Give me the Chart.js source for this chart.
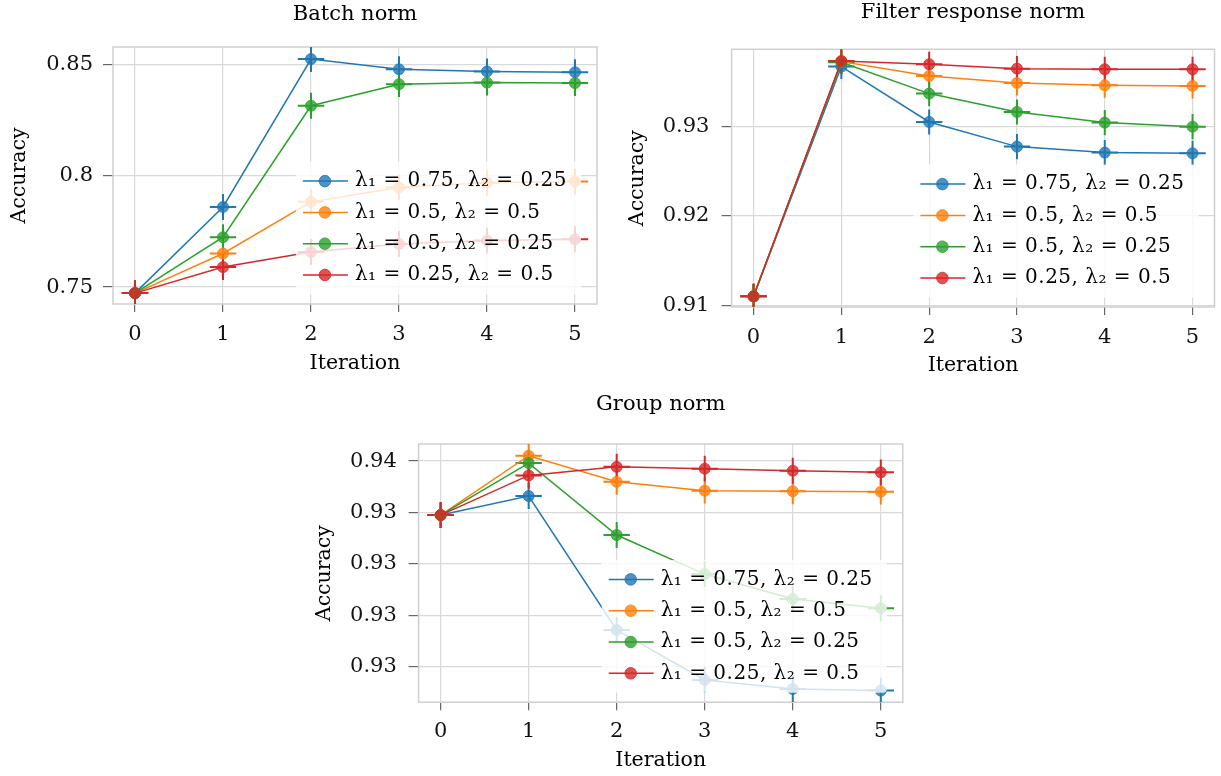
<!DOCTYPE html>
<html><head><meta charset="utf-8">
<script src="https://cdn.jsdelivr.net/npm/chart.js@4.4.0/dist/chart.umd.min.js"></script>
<style>
html,body{margin:0;padding:0;background:#fff;}
body{width:1221px;height:776px;position:relative;overflow:hidden;}
canvas{position:absolute;}
</style></head><body>
<canvas id="c1" width="610" height="385" style="left:0px;top:0px"></canvas>
<canvas id="c2" width="611" height="385" style="left:610px;top:0px"></canvas>
<canvas id="c3" width="620" height="391" style="left:300px;top:385px"></canvas>
<script>
// ---------- data ----------
const iterations = [0, 1, 2, 3, 4, 5];
const xTickValues = [0, 1, 2, 3, 4, 5];
const xTickLabels = ['0', '1', '2', '3', '4', '5'];
const seriesLabels = ['λ₁ = 0.75, λ₂ = 0.25', 'λ₁ = 0.5, λ₂ = 0.5', 'λ₁ = 0.5, λ₂ = 0.25', 'λ₁ = 0.25, λ₂ = 0.5'];
const seriesColors = ['#1f77b4', '#ff7f0e', '#2ca02c', '#d62728'];
const xErr = 0.15;

// Batch norm
const batchBlue   = [0.7473, 0.7860, 0.8525, 0.8479, 0.8469, 0.8466];
const batchOrange = [0.7473, 0.7651, 0.7883, 0.7948, 0.7969, 0.7974];
const batchGreen  = [0.7473, 0.7724, 0.8315, 0.8412, 0.8419, 0.8417];
const batchRed    = [0.7473, 0.7590, 0.7658, 0.7694, 0.7709, 0.7715];
const batchYErr   = [0.0058, 0.0058, 0.0058, 0.0058];
const batchYTicks = [0.75, 0.8, 0.85];
const batchYLabels = ['0.75', '0.8', '0.85'];
const batchYRange = [0.7424, 0.8579];

// Filter response norm
const frnBlue   = [0.9110, 0.93667, 0.93048, 0.92773, 0.92706, 0.92698];
const frnOrange = [0.9110, 0.93723, 0.93562, 0.93484, 0.93458, 0.93451];
const frnGreen  = [0.9110, 0.93715, 0.93365, 0.93160, 0.93041, 0.92996];
const frnRed    = [0.9110, 0.93730, 0.93693, 0.93644, 0.93637, 0.93637];
const frnYErr   = [0.0014, 0.0014, 0.0014, 0.0014];
const frnYTicks = [0.91, 0.92, 0.93];
const frnYLabels = ['0.91', '0.92', '0.93'];
const frnYRange = [0.90981, 0.9386];

// Group norm
const gnBlue   = [0.93737, 0.93830, 0.93178, 0.92935, 0.92891, 0.92883];
const gnOrange = [0.93737, 0.94026, 0.93899, 0.93856, 0.93853, 0.93851];
const gnGreen  = [0.93737, 0.93990, 0.93640, 0.93450, 0.93329, 0.93284];
const gnRed    = [0.93737, 0.93930, 0.93972, 0.93963, 0.93953, 0.93945];
const gnYErr   = [0.00063, 0.00063, 0.00063, 0.00063];
const gnYTicks = [0.93, 0.9325, 0.935, 0.9375, 0.94];
const gnYLabels = ['0.93', '0.93', '0.93', '0.93', '0.94'];
const gnYRange = [0.92826, 0.94083];

// ---------- drawing ----------
const FAMILY = "'DejaVu Serif', 'Liberation Serif', serif";
const TITLE_SIZE = 21, TICK_SIZE = 21, LABEL_SIZE = 20.5, LEG_SIZE = 20;

function rgba(hex, a) {
  const n = parseInt(hex.slice(1), 16);
  return `rgba(${(n >> 16) & 255},${(n >> 8) & 255},${n & 255},${a})`;
}

function makeChart(cfg) {
  const tlh = TITLE_SIZE * 1.2, alh = LABEL_SIZE * 1.2, klh = TICK_SIZE * 1.2;
  const A = cfg.area;
  let tTop = cfg.titleCenter - tlh / 2; if (tTop < 0) tTop = 0;
  const tBot = A.t - tTop - tlh;

  const decor = {
    id: 'decor_' + cfg.id,
    beforeDatasetsDraw(chart) {
      const ctx = chart.ctx, ca = chart.chartArea, xs = chart.scales.x, ys = chart.scales.y;
      ctx.save();
      ctx.strokeStyle = '#cfcfcf';
      ctx.lineWidth = 1.5;
      ctx.strokeRect(ca.left, ca.top, ca.right - ca.left, ca.bottom - ca.top);
      ctx.beginPath();
      ctx.rect(ca.left, ca.top, ca.right - ca.left, ca.bottom - ca.top);
      ctx.clip();
      ctx.lineWidth = 2;
      cfg.series.forEach((vals, i) => {
        ctx.strokeStyle = seriesColors[i];
        vals.forEach((v, j) => {
          const px = xs.getPixelForValue(iterations[j]);
          const py = ys.getPixelForValue(v);
          ctx.beginPath();
          ctx.moveTo(px, ys.getPixelForValue(v - cfg.yErr[i]));
          ctx.lineTo(px, ys.getPixelForValue(v + cfg.yErr[i]));
          ctx.moveTo(xs.getPixelForValue(iterations[j] - xErr), py);
          ctx.lineTo(xs.getPixelForValue(iterations[j] + xErr), py);
          ctx.stroke();
        });
      });
      ctx.restore();
    },
    afterDatasetsDraw(chart) {
      const ctx = chart.ctx, ca = chart.chartArea;
      const ds = chart.data.datasets;
      ctx.save();
      ctx.font = `${LEG_SIZE}px ${FAMILY}`;
      if ('letterSpacing' in ctx) ctx.letterSpacing = '0.5px';
      const maxW = Math.max(...ds.map(d => ctx.measureText(d.label).width));
      const rowH = 31.3;
      const right = ca.right - 16;
      const bottom = ca.bottom - 9.5;
      const textX = right - 14 - maxW;
      const lastRow = bottom - 19.5;
      const firstRow = lastRow - (ds.length - 1) * rowH;
      const top = firstRow - 19.5;
      const left = textX - 59;
      ctx.fillStyle = 'rgba(255,255,255,0.8)';
      ctx.beginPath();
      if (ctx.roundRect) ctx.roundRect(left, top, right - left, bottom - top, 4);
      else ctx.rect(left, top, right - left, bottom - top);
      ctx.fill();
      ds.forEach((d, i) => {
        const y = firstRow + i * rowH;
        ctx.strokeStyle = d.borderColor;
        ctx.lineWidth = 1.5;
        ctx.beginPath();
        ctx.moveTo(textX - 52, y);
        ctx.lineTo(textX - 7, y);
        ctx.stroke();
        ctx.beginPath();
        ctx.arc(textX - 30, y, 5.8, 0, Math.PI * 2);
        ctx.fillStyle = d.pointBackgroundColor;
        ctx.fill();
        ctx.lineWidth = 1;
        ctx.strokeStyle = d.pointBorderColor;
        ctx.stroke();
        ctx.fillStyle = '#000';
        ctx.textAlign = 'left';
        ctx.textBaseline = 'middle';
        ctx.fillText(d.label, textX, y);
      });
      ctx.restore();
    }
  };

  const datasets = cfg.series.map((vals, i) => ({
    label: seriesLabels[i],
    data: iterations.map((x, j) => ({ x: x, y: vals[j] })),
    borderColor: seriesColors[i],
    backgroundColor: rgba(seriesColors[i], 0.8),
    pointBackgroundColor: rgba(seriesColors[i], 0.8),
    pointBorderColor: rgba(seriesColors[i], 0.8),
    pointRadius: 5.5,
    pointBorderWidth: 1,
    borderWidth: 1.5,
    tension: 0,
    fill: false,
    order: cfg.series.length - 1 - i
  }));

  return new Chart(document.getElementById(cfg.id), {
    type: 'line',
    data: { datasets },
    plugins: [decor],
    options: {
      responsive: false,
      animation: false,
      events: [],
      layout: { padding: { left: 0, top: 0, right: cfg.w - A.r, bottom: 0 } },
      plugins: {
        legend: { display: false },
        tooltip: { enabled: false },
        title: {
          display: true, text: cfg.title, fullSize: false, color: '#000',
          font: { family: FAMILY, size: TITLE_SIZE, weight: 'normal' },
          padding: { top: tTop, bottom: tBot }
        }
      },
      scales: {
        x: {
          type: 'linear', position: 'bottom',
          min: -0.25, max: 5.25,
          afterBuildTicks: (s) => { s.ticks = xTickValues.map(v => ({ value: v })); },
          afterFit: (s) => { s.height = cfg.h - A.b; },
          ticks: {
            autoSkip: false, maxRotation: 0, minRotation: 0, color: '#111',
            font: { family: FAMILY, size: TICK_SIZE },
            padding: cfg.xLabelCenter - A.b - 8 - klh / 2,
            callback: (v, idx) => xTickLabels[idx]
          },
          grid: { color: '#d9d9d9', lineWidth: 1.2, tickColor: '#666', tickLength: 8, tickWidth: 1.2 },
          border: { display: false },
          title: {
            display: true, text: 'Iteration', color: '#000',
            font: { family: FAMILY, size: LABEL_SIZE },
            padding: { top: 0, bottom: (cfg.h - cfg.xTitleCenter) - alh / 2 }
          }
        },
        y: {
          type: 'linear', position: 'left',
          min: cfg.yRange[0], max: cfg.yRange[1],
          afterBuildTicks: (s) => { s.ticks = cfg.yTicks.map(v => ({ value: v })); },
          afterFit: (s) => { s.width = A.l; },
          ticks: {
            autoSkip: false, color: '#111',
            font: { family: FAMILY, size: TICK_SIZE },
            padding: A.l - 10 - cfg.yLabelRight,
            callback: (v, idx) => cfg.yLabels[idx]
          },
          grid: { color: '#d9d9d9', lineWidth: 1.2, tickColor: '#666', tickLength: 10, tickWidth: 1.2 },
          border: { display: false },
          title: {
            display: true, text: 'Accuracy', color: '#000',
            font: { family: FAMILY, size: LABEL_SIZE },
            padding: { top: cfg.yTitleCenter - alh / 2, bottom: 0 }
          }
        }
      }
    }
  });
}

makeChart({
  id: 'c1', title: 'Batch norm', w: 610, h: 385,
  area: { l: 113, t: 47, r: 597, b: 304 },
  titleCenter: 14.5, yTitleCenter: 20, xTitleCenter: 364, yLabelRight: 93, xLabelCenter: 335,
  series: [batchBlue, batchOrange, batchGreen, batchRed], yErr: batchYErr,
  yTicks: batchYTicks, yLabels: batchYLabels, yRange: batchYRange
});
makeChart({
  id: 'c2', title: 'Filter response norm', w: 611, h: 385,
  area: { l: 121.6, t: 49.3, r: 606, b: 307 },
  titleCenter: 12, yTitleCenter: 28, xTitleCenter: 366, yLabelRight: 99.4, xLabelCenter: 338,
  series: [frnBlue, frnOrange, frnGreen, frnRed], yErr: frnYErr,
  yTicks: frnYTicks, yLabels: frnYLabels, yRange: frnYRange
});
makeChart({
  id: 'c3', title: 'Group norm', w: 620, h: 391,
  area: { l: 118.6, t: 59, r: 602.8, b: 317.3 },
  titleCenter: 20, yTitleCenter: 24.7, xTitleCenter: 376, yLabelRight: 96.8, xLabelCenter: 346.5,
  series: [gnBlue, gnOrange, gnGreen, gnRed], yErr: gnYErr,
  yTicks: gnYTicks, yLabels: gnYLabels, yRange: gnYRange
});
</script>
</body></html>
